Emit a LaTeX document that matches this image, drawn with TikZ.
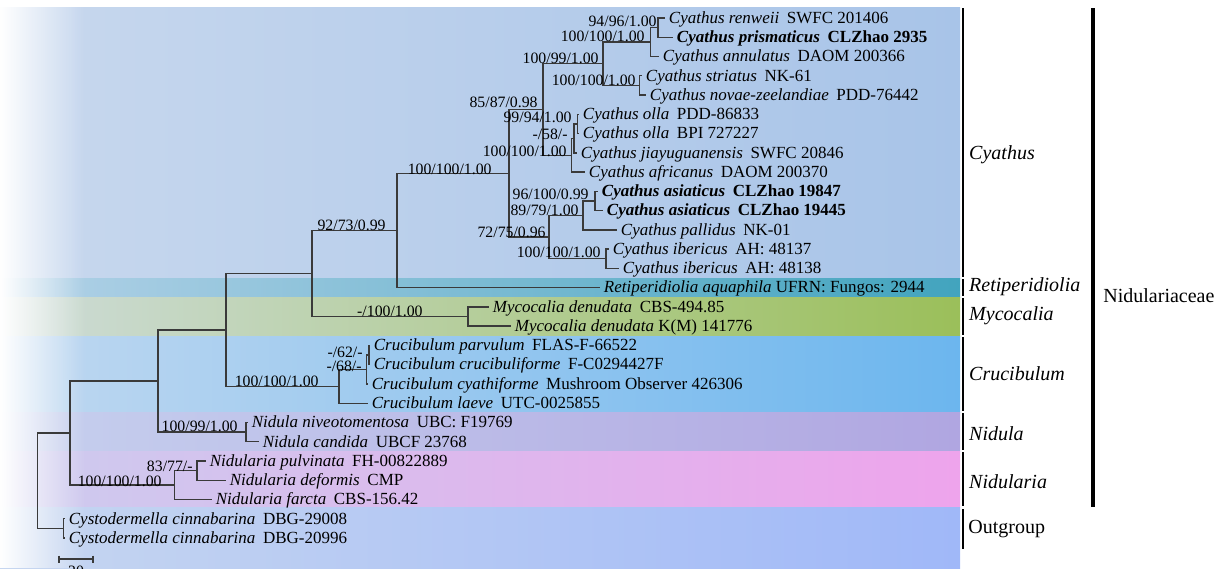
\documentclass[tikz,border=0pt]{standalone}
\usepackage{fontspec}
\setmainfont{Liberation Serif}
\usetikzlibrary{fadings}
\definecolor{cyaL}{RGB}{200,216,238}
\definecolor{cyaR}{RGB}{168,196,232}
\definecolor{retL}{RGB}{180,210,232}
\definecolor{retR}{RGB}{66,164,190}
\definecolor{myoL}{RGB}{206,220,218}
\definecolor{myoR}{RGB}{155,191,90}
\definecolor{cruL}{RGB}{192,216,240}
\definecolor{cruR}{RGB}{108,182,238}
\definecolor{nduL}{RGB}{198,208,238}
\definecolor{nduR}{RGB}{176,166,225}
\definecolor{ndrL}{RGB}{204,204,238}
\definecolor{ndrR}{RGB}{238,164,236}
\definecolor{outL}{RGB}{198,214,240}
\definecolor{outR}{RGB}{160,184,248}
\definecolor{treeline}{RGB}{58,58,58}
\tikzfading[name=fadewhite, left color=transparent!0, right color=transparent!100]
\tikzset{
  branch/.style={draw=treeline, line width=0.7pt},
  taxon/.style={anchor=west, inner xsep=1.75pt, inner ysep=0pt, text height=1.5ex,
    text depth=0.35ex, font=\fontsize{8.5}{10}\selectfont},
  support/.style={anchor=east, inner sep=0pt, text height=0.62em, text depth=0pt,
    font=\fontsize{7.9}{9}\selectfont},
  genus/.style={anchor=west, inner sep=0pt, font=\fontsize{10}{12}\selectfont\itshape},
  genusbar/.style={line width=1.2pt},
}
\newcommand{\tx}[2]{\textit{#1}\hspace{0.45em}#2}
\begin{document}
\begin{tikzpicture}[x=0.5pt,y=-0.5pt]
  \useasboundingbox (0,0) rectangle (1218,568);
  \foreach \t/\b/\cl/\cr in {7/278/cyaL/cyaR, 278/297.5/retL/retR, 297.5/336/myoL/myoR,
      336/412/cruL/cruR, 412/451/nduL/nduR, 451/507/ndrL/ndrR, 507/568/outL/outR}
    \shade[left color=\cl, right color=\cr] (0,\t) rectangle (960,\b);
  \fill[white, path fading=fadewhite] (0,7) rectangle (85,568);

  \foreach \n/\x/\t in {
      1/665/{\tx{Cyathus renweii}{SWFC 201406}},
      2/673/{\textbf{\tx{Cyathus prismaticus}{CLZhao 2935}}},
      3/659/{\tx{Cyathus annulatus}{DAOM 200366}},
      4/642/{\tx{Cyathus striatus}{NK-61}},
      5/646/{\tx{Cyathus novae-zeelandiae}{PDD-76442}},
      6/579/{\tx{Cyathus olla}{PDD-86833}},
      7/579/{\tx{Cyathus olla}{BPI 727227}},
      8/577/{\tx{Cyathus jiayuguanensis}{SWFC 20846}},
      9/585/{\tx{Cyathus africanus}{DAOM 200370}},
      10/598/{\textbf{\tx{Cyathus asiaticus}{CLZhao 19847}}},
      11/603/{\textbf{\tx{Cyathus asiaticus}{CLZhao 19445}}},
      12/617/{\tx{Cyathus pallidus}{NK-01}},
      13/609/{\tx{Cyathus ibericus}{AH: 48137}},
      14/619/{\tx{Cyathus ibericus}{AH: 48138}},
      15/600/{\textit{Retiperidiolia aquaphila} UFRN: Fungos: 2944},
      16/489/{\tx{Mycocalia denudata}{CBS-494.85}},
      17/511/{\textit{Mycocalia denudata} K(M) 141776},
      18/370/{\tx{Crucibulum parvulum}{FLAS-F-66522}},
      19/370/{\tx{Crucibulum crucibuliforme}{F-C0294427F}},
      20/368/{\tx{Crucibulum cyathiforme}{Mushroom Observer 426306}},
      21/368/{\tx{Crucibulum laeve}{UTC-0025855}},
      22/248/{\tx{Nidula niveotomentosa}{UBC: F19769}},
      23/259/{\tx{Nidula candida}{UBCF 23768}},
      24/206/{\tx{Nidularia pulvinata}{FH-00822889}},
      25/226/{\tx{Nidularia deformis}{CMP}},
      26/212/{\tx{Nidularia farcta}{CBS-156.42}},
      27/65/{\tx{Cystodermella cinnabarina}{DBG-29008}},
      28/65/{\tx{Cystodermella cinnabarina}{DBG-20996}}}
    \node[taxon] (l\n) at (\x,{18+(\n-1)*19.26}) {\t};

  \foreach \n/\x/\y in {renpri/658/27.65, renann/650.5/42.1, strnov/639.5/85.4,
      cyaA/603/63.75, olla/577.5/123.95, ollajia/574/138.4, ollaafr/571.5/155.25,
      cyaB/543/109.5, asia/595/200.95, asiapal/583/215.4, iber/606/258.75,
      cyaC/549/237.1, cyathus/509/173.3, cyaret/397/230.45, myco/468/316.55,
      cyarm/312/273.5, crpc/369/355.05, crpcy/366.5/369.5, cruc/339/386.35,
      core/226/329.9, nidula/246/432.1, core2/158/381, nidpd/197/470.6,
      nidularia/174.3/485.05, nidac/70/433, outg/63.3/528.4, root/37.7/480.7}
    \coordinate (\n) at (\x,\y);

  \foreach \p/\c in {renpri/l1.west, renpri/l2.west, renann/renpri, renann/l3.west,
      strnov/l4.west, strnov/l5.west, cyaA/renann, cyaA/strnov,
      olla/l6.west, olla/l7.west, ollajia/olla, ollajia/l8.west,
      ollaafr/ollajia, ollaafr/l9.west, cyaB/cyaA, cyaB/ollaafr,
      asia/l10.west, asia/l11.west, asiapal/asia, asiapal/l12.west,
      iber/l13.west, iber/l14.west, cyaC/asiapal, cyaC/iber,
      cyathus/cyaB, cyathus/cyaC, cyaret/cyathus, cyaret/l15.west,
      myco/l16.west, myco/l17.west, cyarm/cyaret, cyarm/myco,
      crpc/l18.west, crpc/l19.west, crpcy/crpc, crpcy/l20.west,
      cruc/crpcy, cruc/l21.west, core/cyarm, core/cruc,
      nidula/l22.west, nidula/l23.west, core2/core, core2/nidula,
      nidpd/l24.west, nidpd/l25.west, nidularia/nidpd, nidularia/l26.west,
      nidac/core2, nidac/nidularia, outg/l27.west, outg/l28.west,
      root/nidac, root/outg}
    \draw[branch] (\p) |- (\c);

  \foreach \x/\y/\s [count=\i] in {657/20/{94/96/1.00}, 645/35/{100/100/1.00},
      599/57.5/{100/99/1.00}, 636/79/{100/100/1.00}, 538/101.5/{85/87/0.98},
      572/116.5/{99/94/1.00}, 568/133.5/{-/58/-}, 567/150/{100/100/1.00},
      492/168.3/{100/100/1.00}, 589/193.3/{96/100/0.99}, 579/209.3/{89/79/1.00},
      546/231.7/{72/75/0.96}, 601/251.7/{100/100/1.00}, 386/224/{92/73/0.99},
      423/310.7/{-/100/1.00}, 363/351.5/{-/62/-}, 362/365/{-/68/-},
      319/380/{100/100/1.00}, 238/425/{100/99/1.00}, 193/465/{83/77/-},
      162/480/{100/100/1.00}}
    \node[support] (bs\i) at (\x,\y) {\s};

  \coordinate (sbl) at (59,559);
  \coordinate (sbr) at (93,559);
  \draw[branch] (sbl) -- (sbr);
  \draw[branch] (59,555.5) -- (59,562.5);
  \draw[branch] (93,555.5) -- (93,562.5);
  \node[support, anchor=north] (sbtext) at (76,564) {20};

  \foreach \t/\b/\ly/\g in {8/277/155/Cyathus, 279/296/287/Retiperidiolia,
      298/335/316/Mycocalia, 337/411/374/Crucibulum, 413/450/434/Nidula,
      452/506/482/Nidularia}
    \draw[genusbar] (963,\t) -- (963,\b) node[genus] (g\g) at (968,\ly) {\g};
  \draw[genusbar] (963,509) -- (963,549);
  \node[genus, font=\fontsize{10}{12}\selectfont] (gout) at (968,529) {Outgroup};
  \draw[line width=1.7pt] (1093,8) -- (1093,507);
  \node[genus, font=\fontsize{10}{12}\selectfont] (fam) at (1103,296) {Nidulariaceae};
\end{tikzpicture}
\end{document}
